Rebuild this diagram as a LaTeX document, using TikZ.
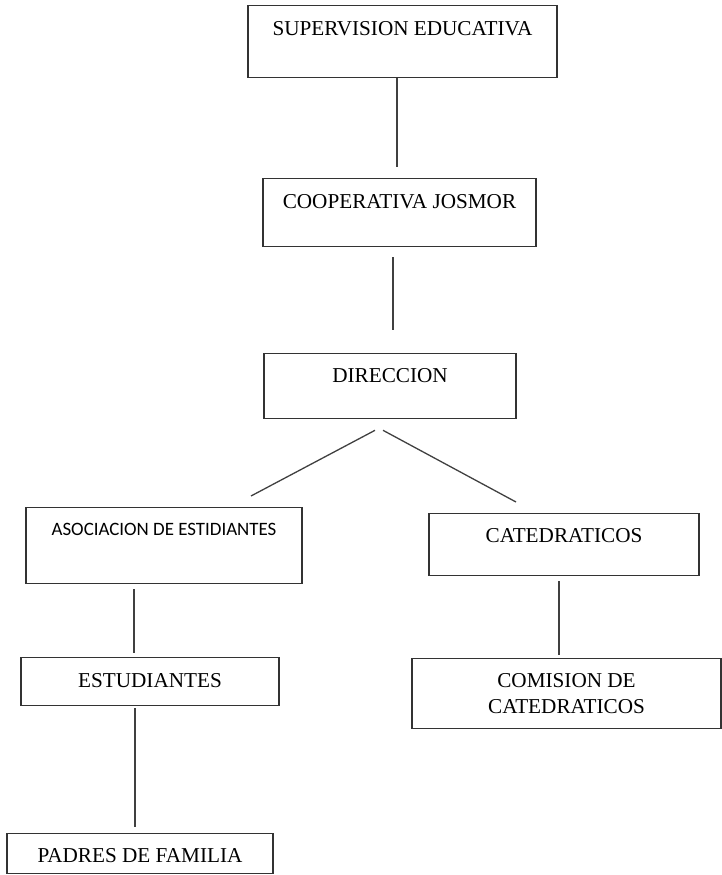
\documentclass[tikz,border=0pt]{standalone}
\usepackage{fontspec}
\setmainfont{Liberation Serif}
\newfontfamily\asocfont{Carlito}
\usetikzlibrary{positioning}

\begin{document}
\begin{tikzpicture}[x=1pt,y=-1pt,
            caja/.style={draw=black!80,line width=1.3pt,rectangle,inner xsep=0pt,inner ysep=0pt,anchor=north,font=\fontsize{21.2}{26}\selectfont},
            linea/.style={draw=black!75,line width=1.3pt}]
            \useasboundingbox (0,0) rectangle (722,875);
            \node[caja,minimum width=309pt,text height=30pt,text depth=42pt] (sup) at (402.5,5) {SUPERVISION EDUCATIVA};
            \node[caja,minimum width=273pt,text height=30pt,text depth=38pt] (coop) at (399.5,178) {COOPERATIVA JOSMOR};
            \node[caja,minimum width=252pt,text height=29pt,text depth=36pt] (dir) at (390,353) {DIRECCION};
            \node[caja,minimum width=276pt,text height=28pt,text depth=48pt,font=\asocfont\fontsize{18.9}{22}\selectfont] (asoc) at (164,507) {ASOCIACION DE ESTIDIANTES};
            \node[caja,minimum width=270pt,text height=29pt,text depth=33pt] (cat) at (564,513) {CATEDRATICOS};
            \node[caja,minimum width=258pt,text height=30pt,text depth=18pt] (estu) at (150,657) {ESTUDIANTES};
            \node[caja,minimum width=309pt,minimum height=70pt,align=center] (comis) at (566.5,658) {COMISION DE\\CATEDRATICOS};
            \node[caja,minimum width=266pt,text height=29pt,text depth=11pt] (padres) at (140,833) {PADRES DE FAMILIA};
            \draw[linea] ([shift={(-5.5,0)}]sup.south) -- ([shift={(-2.5,-11)}]coop.north);
            \draw[linea] ([shift={(-6.5,10)}]coop.south) -- ([shift={(3,-23)}]dir.north);
            \draw[linea] ([shift={(-15,11)}]dir.south) -- ([shift={(87,-11)}]asoc.north);
            \draw[linea] ([shift={(-7,11)}]dir.south) -- ([shift={(-48,-11)}]cat.north);
            \draw[linea] ([shift={(-30,5)}]asoc.south) -- ([shift={(-16,-4)}]estu.north);
            \draw[linea] ([shift={(-15,2)}]estu.south) -- ([shift={(-5,-6)}]padres.north);
            \draw[linea] ([shift={(-5,5)}]cat.south) -- ([shift={(-7.5,-3)}]comis.north);
        \end{tikzpicture}
\end{document}
